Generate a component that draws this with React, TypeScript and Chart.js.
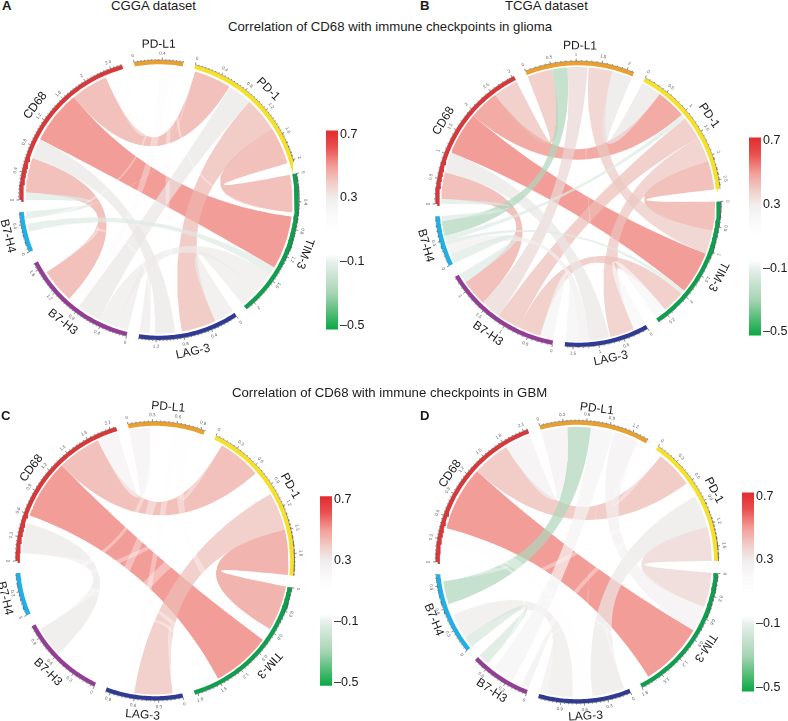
import React, { useEffect, useRef } from "react";
import { Chart, registerables } from "chart.js";

Chart.register(...registerables);

const FONT = '"Liberation Sans", Arial, sans-serif';

const sectorNames = ["CD68", "PD-L1", "PD-1", "TIM-3", "LAG-3", "B7-H3", "B7-H4"];
const sectorColors = ["#d9383a", "#e9a02e", "#f6e02a", "#0f9f4e", "#2f3a94", "#943d96", "#1eb0e6"];

// [sector a, sector b, ribbon width on the sector scale, correlation]
const linksA = [
  [0, 6, 0.11, -0.1], [0, 5, 0.52, 0.42], [0, 4, 0.3, 0.3], [0, 3, 0.8, 0.5], [0, 2, 0.56, 0.42], [0, 1, 0.28, 0.08],
  [1, 2, 0.02, 0.1], [1, 3, 0.06, 0.1], [1, 4, 0.1, 0.12], [1, 5, 0.18, 0.14], [1, 6, 0.06, 0.08],
  [2, 3, 0.56, 0.42], [2, 4, 0.52, 0.39], [2, 5, 0.36, 0.3], [2, 6, 0.01, 0.08],
  [3, 4, 0.3, 0.27], [3, 5, 0.3, 0.27], [3, 6, 0.12, -0.1],
  [4, 5, 0.15, 0.28], [4, 6, 0.08, 0.08], [5, 6, 0.2, 0.08],
];
const linksB = [
  [0, 6, 0.1, -0.1], [0, 5, 0.54, 0.42], [0, 4, 0.42, 0.3], [0, 3, 0.86, 0.5], [0, 2, 0.61, 0.47], [0, 1, 0.51, 0.38],
  [1, 2, 0.41, 0.3], [1, 3, 0.48, 0.36], [1, 4, 0.02, 0.1], [1, 5, 0.41, 0.33], [1, 6, 0.31, -0.2],
  [2, 3, 0.59, 0.42], [2, 4, 0.5, 0.37], [2, 5, 0.47, 0.38], [2, 6, 0.1, -0.1],
  [3, 4, 0.25, 0.2], [3, 5, 0.46, 0.38], [3, 6, 0.08, -0.1],
  [4, 5, 0.27, 0.22], [4, 6, 0.2, 0.25], [5, 6, 0.2, -0.1],
];
const linksC = [
  [0, 6, 0.1, 0.08], [0, 5, 0.39, 0.29], [0, 4, 0.1, 0.08], [0, 3, 0.76, 0.5], [0, 2, 0.56, 0.42], [0, 1, 0.27, 0.23],
  [1, 2, 0.12, 0.1], [1, 3, 0.16, 0.12], [1, 4, 0.12, 0.12], [1, 5, 0.18, 0.1], [1, 6, 0.1, 0.08],
  [2, 3, 0.58, 0.45], [2, 4, 0.49, 0.38], [2, 5, 0.22, 0.1], [2, 6, 0.1, 0.08],
  [3, 4, 0.12, 0.1], [3, 5, 0.12, 0.08], [3, 6, 0.1, 0.08],
  [4, 5, 0.08, 0.08], [4, 6, 0.05, 0.08], [5, 6, 0.08, 0.08],
];
const linksD = [
  [0, 6, 0.1, 0.08], [0, 5, 0.1, 0.1], [0, 4, 0.25, 0.12], [0, 3, 0.86, 0.5], [0, 2, 0.5, 0.39], [0, 1, 0.35, 0.24],
  [1, 2, 0.1, 0.12], [1, 3, 0.34, 0.24], [1, 4, 0.01, 0.1], [1, 5, 0.3, 0.22], [1, 6, 0.31, -0.2],
  [2, 3, 0.46, 0.34], [2, 4, 0.43, 0.29], [2, 5, 0.1, 0.1], [2, 6, 0.1, 0.08],
  [3, 4, 0.06, 0.1], [3, 5, 0.03, 0.1], [3, 6, 0.05, 0.1],
  [4, 5, 0.1, 0.25], [4, 6, 0.34, 0.27], [5, 6, 0.15, -0.12],
];

const legendTicks = [-0.5, -0.1, 0.3, 0.7];
// correlation -> colour of the colour key
const colorStops: [number, number[]][] = [
  [0.72, [226, 44, 48]], [0.62, [233, 78, 78]], [0.5, [243, 158, 152]], [0.4, [242, 202, 196]],
  [0.3, [240, 237, 237]], [0.2, [250, 249, 249]], [0.1, [255, 255, 255]], [-0.05, [255, 255, 255]],
  [-0.1, [232, 240, 236]], [-0.3, [165, 212, 178]], [-0.52, [12, 168, 68]],
];

const panels = [
  { links: linksA, cx: 158.7, cy: 200, R: 140, r: 133.5, step: 0.4, minor: 0.05, labelGap: 15.5 },
  { links: linksB, cx: 578.3, cy: 203.5, R: 143, r: 137, step: 0.5, minor: 0.1, labelGap: 15 },
  { links: linksC, cx: 155, cy: 561, R: 139.5, r: 133.5, step: 0.3, minor: 0.05, labelGap: 15 },
  { links: linksD, cx: 577.3, cy: 562.3, R: 141.5, r: 135, step: 0.3, minor: 0.05, labelGap: 13 },
];
const bars = [
  { x: 326, top: 125.5, bottom: 334.5 },
  { x: 749, top: 132, bottom: 340 },
  { x: 320, top: 491, bottom: 691 },
  { x: 742, top: 487, bottom: 696 },
];
const texts = [
  { t: "A", x: 2, y: 6, b: true },
  { t: "B", x: 420, y: 6, b: true },
  { t: "C", x: 1, y: 416, b: true },
  { t: "D", x: 420, y: 416, b: true },
  { t: "CGGA dataset", x: 111, y: 6 },
  { t: "TCGA dataset", x: 505, y: 6 },
  { t: "Correlation of CD68 with immune checkpoints in glioma", x: 228, y: 27 },
  { t: "Correlation of CD68 with immune checkpoints in GBM", x: 232, y: 393 },
];

const GAP = 5;
const HALF = 165;
const ALPHA = 0.7;
const FAINT_ALPHA = 0.35;

function keyColor(v: number): number[] {
  if (v >= colorStops[0][0]) return colorStops[0][1];
  for (let i = 1; i < colorStops.length; i++) {
    const [v1, c1] = colorStops[i];
    const [v0, c0] = colorStops[i - 1];
    if (v >= v1) {
      const f = (v - v1) / (v0 - v1);
      return c1.map((c, k) => c + (c0[k] - c) * f);
    }
  }
  return colorStops[colorStops.length - 1][1];
}
function ribbonColor(v: number): string {
  const a = v > -0.05 && v < 0.16 ? FAINT_ALPHA : ALPHA;
  const c = keyColor(v).map((t) => Math.max(0, Math.round((t - 255 * (1 - a)) / a)));
  return `rgba(${c[0]},${c[1]},${c[2]},${a})`;
}
const polar = (deg: number, rad: number) => {
  const a = (deg * Math.PI) / 180;
  return { x: rad * Math.sin(a), y: rad * Math.cos(a) };
};
function arcPoints(a0: number, a1: number, rad: number) {
  const n = Math.max(2, Math.ceil(Math.abs(a1 - a0)));
  const out = [];
  for (let i = 0; i <= n; i++) out.push(polar(a0 + ((a1 - a0) * i) / n, rad));
  return out;
}
function curvePoints(a0: number, a1: number, rad: number) {
  const p0 = polar(a0, rad);
  const p1 = polar(a1, rad);
  const out = [];
  for (let i = 1; i < 30; i++) {
    const t = i / 30;
    out.push({ x: (1 - t) * (1 - t) * p0.x + t * t * p1.x, y: (1 - t) * (1 - t) * p0.y + t * t * p1.y });
  }
  return out;
}

function layout(links: number[][]) {
  const totals = sectorNames.map((_, s) =>
    links.reduce((sum, l) => (l[0] === s || l[1] === s ? sum + l[2] : sum), 0)
  );
  const total = totals.reduce((a, b) => a + b, 0);
  const deg = (360 - GAP * sectorNames.length) / total;
  const starts: number[] = [];
  let cur = 270;
  totals.forEach((t) => {
    starts.push(cur);
    cur += t * deg + GAP;
  });
  const ends = links.map(() => [0, 0, 0, 0]);
  sectorNames.forEach((_, s) => {
    const own = links
      .map((l, i) => ({ l, i }))
      .filter(({ l }) => l[0] === s || l[1] === s)
      .map(({ l, i }) => ({ i, w: l[2], far: l[0] === s ? l[1] : l[0], isA: l[0] === s }))
      .sort(
        (p, q) =>
          ((q.far - s + sectorNames.length) % sectorNames.length) -
          ((p.far - s + sectorNames.length) % sectorNames.length)
      );
    let pos = starts[s];
    own.forEach((o) => {
      const next = pos + o.w * deg;
      if (o.isA) {
        ends[o.i][0] = pos;
        ends[o.i][1] = next;
      } else {
        ends[o.i][2] = pos;
        ends[o.i][3] = next;
      }
      pos = next;
    });
  });
  return { totals, deg, starts, ends };
}

function ChordPanel({ panel }: { panel: (typeof panels)[number] }) {
  const ref = useRef<HTMLCanvasElement>(null);
  useEffect(() => {
    const { links, R, r, step, minor, labelGap } = panel;
    const { totals, deg, starts, ends } = layout(links);
    const base = { showLine: true, pointRadius: 0, pointHoverRadius: 0, tension: 0 };

    const ringSets = totals.map((t, s) => ({
      ...base,
      data: arcPoints(starts[s], starts[s] + t * deg, R - 2.2),
      borderColor: sectorColors[s],
      borderWidth: 4.2,
      fill: false,
    }));
    const axisSets = totals.map((t, s) => {
      const pts: { x: number; y: number }[] = [];
      const count = Math.floor(t / minor + 1e-6);
      const every = Math.round(step / minor);
      for (let k = 0; k <= count; k++) {
        const a = starts[s] + k * minor * deg;
        pts.push(polar(a, R));
        pts.push(polar(a, R + (k % every === 0 ? 2.4 : 1)));
        pts.push(polar(a, R));
        if (k < count) pts.push(polar(a + (minor * deg) / 2, R));
      }
      pts.push(polar(starts[s] + t * deg, R));
      return { ...base, data: pts, borderColor: "#555555", borderWidth: 0.4, fill: false };
    });
    const ribbonSets = links
      .map((l, i) => {
        const [a0, a1, b0, b1] = ends[i];
        const data = [
          ...arcPoints(a0, a1, r),
          ...curvePoints(a1, b0, r),
          ...arcPoints(b0, b1, r),
          ...curvePoints(b1, a0, r),
        ];
        return { ...base, corr: l[3], data, borderWidth: 0, borderColor: "transparent", backgroundColor: ribbonColor(l[3]), fill: "shape" };
      })
      .sort((p, q) => Math.abs(p.corr) - Math.abs(q.corr)); // first dataset is painted last

    const labels = {
      id: "sectorLabels",
      afterDatasetsDraw(chart: any) {
        const { ctx, scales } = chart;
        const put = (text: string, a: number, rad: number, font: string, color: string) => {
          const p = polar(a, rad);
          const norm = ((a % 360) + 360) % 360;
          const rot = norm > 150 && norm < 270 ? norm - 180 : norm;
          ctx.save();
          ctx.translate(scales.x.getPixelForValue(p.x), scales.y.getPixelForValue(p.y));
          ctx.rotate((rot * Math.PI) / 180);
          ctx.font = font;
          ctx.fillStyle = color;
          ctx.textAlign = "center";
          ctx.textBaseline = "middle";
          ctx.fillText(text, 0, 0);
          ctx.restore();
        };
        totals.forEach((t, s) => {
          put(sectorNames[s], starts[s] + (t * deg) / 2, R + labelGap, `12px ${FONT}`, "#1a1a1a");
          for (let k = 0; k * step <= t + 1e-6; k++) {
            const v = Number((k * step).toFixed(1));
            put(String(v), starts[s] + v * deg, R + 6.5, `4.5px ${FONT}`, "#5d5d5d");
          }
        });
      },
    };

    const chart = new Chart(ref.current!, {
      type: "scatter",
      data: { datasets: [...axisSets, ...ringSets, ...ribbonSets] as any },
      options: {
        animation: false,
        responsive: false,
        layout: { padding: 0 },
        events: [],
        plugins: { legend: { display: false }, tooltip: { enabled: false } },
        scales: {
          x: { type: "linear", min: -HALF, max: HALF, display: false },
          y: { type: "linear", min: -HALF, max: HALF, display: false },
        },
      },
      plugins: [labels],
    } as any);
    return () => chart.destroy();
  }, [panel]);
  return (
    <canvas
      ref={ref}
      width={HALF * 2}
      height={HALF * 2}
      style={{ position: "absolute", left: panel.cx - HALF, top: panel.cy - HALF, width: HALF * 2, height: HALF * 2 }}
    />
  );
}

function ColorBar({ bar }: { bar: (typeof bars)[number] }) {
  const ref = useRef<HTMLCanvasElement>(null);
  const pxPerUnit = (bar.bottom - bar.top) / 1.2;
  const pad = 0.06;
  const height = Math.round((1.2 + 2 * pad) * pxPerUnit);
  useEffect(() => {
    const chart = new Chart(ref.current!, {
      type: "bar",
      data: {
        labels: ["r"],
        datasets: [
          {
            data: [[-0.52, 0.72]],
            barPercentage: 1,
            categoryPercentage: 1,
            borderWidth: 0,
            backgroundColor(ctx: any) {
              const { chartArea, scales } = ctx.chart;
              if (!chartArea) return "#fff";
              const y0 = scales.y.getPixelForValue(0.72);
              const y1 = scales.y.getPixelForValue(-0.52);
              const g = ctx.chart.ctx.createLinearGradient(0, y0, 0, y1);
              colorStops.forEach(([v, c]) => {
                g.addColorStop((0.72 - v) / 1.24, `rgb(${c[0]},${c[1]},${c[2]})`);
              });
              return g;
            },
          },
        ],
      },
      options: {
        animation: false,
        responsive: false,
        events: [],
        layout: { padding: 0 },
        plugins: { legend: { display: false }, tooltip: { enabled: false } },
        scales: {
          x: { display: false },
          y: {
            position: "right",
            min: -0.5 - pad,
            max: 0.7 + pad,
            grid: { display: false, drawTicks: false },
            border: { display: false },
            afterFit(s: any) {
              s.width = 32;
            },
            afterBuildTicks(s: any) {
              s.ticks = legendTicks.map((value) => ({ value }));
            },
            ticks: {
              autoSkip: false,
              padding: 2,
              color: "#1a1a1a",
              font: { family: FONT, size: 12.5 },
              callback: (v: any) => (v < 0 ? `\u2013${Math.abs(v).toFixed(1)}` : Number(v).toFixed(1)),
            },
          },
        },
      },
    } as any);
    return () => chart.destroy();
  }, [bar]);
  return (
    <canvas
      ref={ref}
      width={44}
      height={height}
      style={{ position: "absolute", left: bar.x, top: bar.top - pad * pxPerUnit, width: 44, height }}
    />
  );
}

export default function App() {
  return (
    <div style={{ position: "absolute", left: 0, top: 0, width: 788, height: 721, overflow: "hidden", background: "#fff" }}>
      {panels.map((p, i) => (
        <ChordPanel key={i} panel={p} />
      ))}
      {bars.map((b, i) => (
        <ColorBar key={i} bar={b} />
      ))}
      {texts.map((t) => (
        <div
          key={t.t}
          style={{
            position: "absolute",
            left: t.x,
            top: t.y - 8,
            lineHeight: "16px",
            whiteSpace: "nowrap",
            fontFamily: FONT,
            fontSize: 13.2,
            fontWeight: t.b ? 700 : 400,
            color: "#1a1a1a",
          }}
        >
          {t.t}
        </div>
      ))}
    </div>
  );
}
